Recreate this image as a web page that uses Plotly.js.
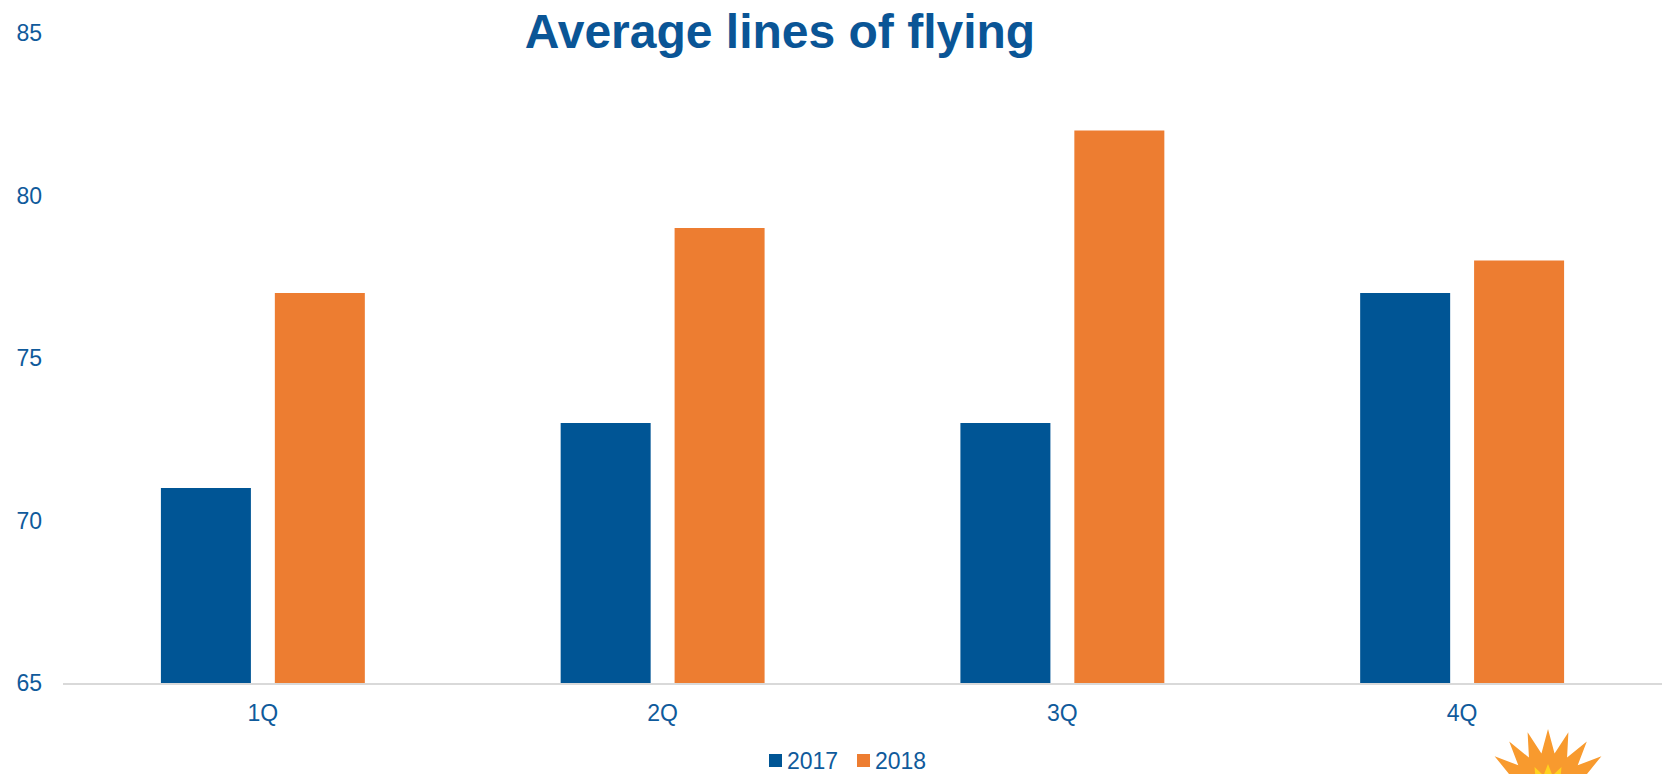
<!DOCTYPE html>
<html>
<head>
<meta charset="utf-8">
<script src="https://cdn.plot.ly/plotly-3.0.1.min.js"></script>
<style>
  html, body { margin: 0; padding: 0; background: #ffffff; }
  #chart { width: 1665px; height: 774px; }
</style>
</head>
<body>
<div id="chart"></div>
<script>
const categories = ["1Q", "2Q", "3Q", "4Q"];
const values2017 = [71, 73, 73, 77];
const values2018 = [77, 79, 82, 78];
const seriesNames = ["2017", "2018"];
const yTicks = [65, 70, 75, 80, 85];

const W = 1665, H = 774;
const M = { l: 63, r: 3, t: 33, b: 91, autoexpand: false };
const plotW = W - M.l - M.r, plotH = H - M.t - M.b;
const textBlue = "#0F5A9B";

// decorative sunburst logo (bottom-right), built in paper coordinates
function px2paperX(px) { return (px - M.l) / plotW; }
function px2paperY(py) { return (H - M.b - py) / plotH; }
function starPath(cx, cy, rOuter, rInner, n, rot) {
  let d = "";
  for (let i = 0; i < 2 * n; i++) {
    const r = i % 2 === 0 ? rOuter : rInner;
    const a = rot + Math.PI * i / n;
    const x = px2paperX(cx + r * Math.cos(a));
    const y = px2paperY(cy + r * Math.sin(a));
    d += (i === 0 ? "M" : "L") + x.toFixed(5) + "," + y.toFixed(5);
  }
  return d + "Z";
}

const traces = [
  { type: "bar", name: seriesNames[0], x: categories, y: values2017,
    marker: { color: "#005595" } },
  { type: "bar", name: seriesNames[1], x: categories, y: values2018,
    marker: { color: "#ED7D31" } }
];

const layout = {
  width: W, height: H,
  margin: M,
  paper_bgcolor: "#ffffff",
  plot_bgcolor: "#ffffff",
  font: { family: "Liberation Sans, Arial, sans-serif", size: 23, color: textBlue },
  title: {
    text: "<b>Average lines of flying</b>",
    font: { family: "Liberation Sans, Arial, sans-serif", size: 48, color: "#0A5596" },
    x: 780 / W, xanchor: "center",
    y: 1 - 31 / H, yanchor: "middle", yref: "container"
  },
  barmode: "group",
  bargap: 0.43,
  bargroupgap: 0.21,
  xaxis: {
    showgrid: false,
    showline: true, linecolor: "#D9D9D9", linewidth: 2,
    ticks: "", ticklabelstandoff: 8,
    tickfont: { size: 23, color: textBlue },
    zeroline: false
  },
  yaxis: {
    range: [65, 85],
    tickvals: yTicks,
    showgrid: false, zeroline: false, showline: false,
    ticks: "", ticklabelstandoff: 20,
    tickfont: { size: 23, color: textBlue }
  },
  showlegend: true,
  legend: {
    orientation: "h",
    x: px2paperX(848), xanchor: "center",
    y: px2paperY(760), yanchor: "middle",
    font: { size: 23, color: textBlue },
    itemwidth: 30,
    bgcolor: "rgba(0,0,0,0)"
  },
  shapes: [
    { type: "path", xref: "paper", yref: "paper", layer: "above",
      path: starPath(1548, 795, 66, 42, 20, -Math.PI / 2),
      fillcolor: "#F89A2E", line: { width: 0 } },
    { type: "path", xref: "paper", yref: "paper", layer: "above",
      path: starPath(1548, 795, 31, 20, 14, -Math.PI / 2),
      fillcolor: "#FFD21F", line: { width: 0 } }
  ]
};

function parseTranslate(s) {
  const m = /translate\(\s*([-\d.e]+)[ ,]+([-\d.e]+)\s*\)/.exec(s || "");
  return m ? [parseFloat(m[1]), parseFloat(m[2])] : [0, 0];
}

Plotly.newPlot("chart", traces, layout, { displayModeBar: false, staticPlot: true }).then(gd => {
  // legend tweak: larger squares, tighter square-text gap, placement as in reference
  const squareLeft = [769, 857];
  const squareTop = 754;
  const items = gd.querySelectorAll(".legend .traces");
  items.forEach((tr, i) => {
    const p = tr.querySelector(".legendpoints path");
    const t = tr.querySelector(".legendtext");
    if (!p || !t) return;
    p.setAttribute("d", "M6.5,6.5H-6.5V-6.5H6.5Z");
    let r = p.getBoundingClientRect();
    const [tx, ty] = parseTranslate(tr.getAttribute("transform"));
    const nx = tx + (squareLeft[i] - r.left);
    const ny = ty + (squareTop - r.top);
    tr.setAttribute("transform", "translate(" + nx + "," + ny + ")");
    r = p.getBoundingClientRect();
    const tr2 = t.getBoundingClientRect();
    const cx = parseFloat(t.getAttribute("x") || "0");
    t.setAttribute("x", cx + (r.left + 18 - tr2.left));
  });
});
</script>
</body>
</html>
